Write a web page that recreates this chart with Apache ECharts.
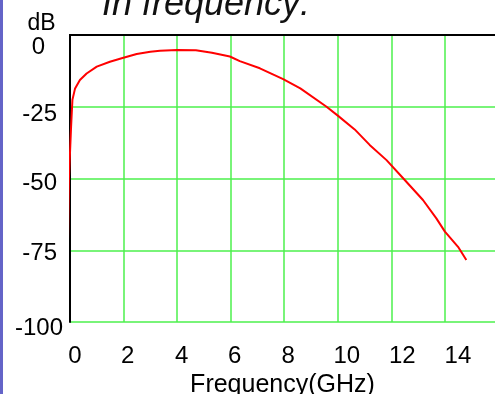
<!DOCTYPE html>
<html><head><meta charset="utf-8">
<script src="https://cdn.jsdelivr.net/npm/echarts@6/dist/echarts.min.js"></script>
<style>html,body{margin:0;padding:0;background:#fff}#c{width:495px;height:394px}</style>
</head><body><div id="c"></div>
<script>
const titleText = 'In frequency:';
const xName = 'Frequency(GHz)';
const yName = 'dB';
const xTicks = [0, 2, 4, 6, 8, 10, 12, 14];
const yTicks = [-100, -75, -50, -25, 0];
const freqGHz = [-0.1, -0.08, -0.04, 0.04, 0.09, 0.19, 0.37, 0.62, 1.0, 1.49, 1.93, 2.49, 3.0, 3.36, 4.0, 4.7, 5.3, 5.97, 6.34, 7.09, 7.96, 8.6, 9.58, 10.0, 10.63, 11.19, 11.82, 12.44, 13.18, 13.68, 14.0, 14.49, 14.8];
const gainDB = [-92, -75, -50, -32, -22.6, -18.6, -15.7, -13.4, -11, -9.3, -8.1, -6.6, -5.8, -5.5, -5.2, -5.3, -6.2, -7.5, -9.1, -11.6, -15.4, -18.6, -25, -28.1, -32.9, -38.3, -43.6, -49.9, -57.5, -63.9, -68.5, -73.8, -78.4];

const font = 'Liberation Sans, Arial, sans-serif';
// per-label nudges (styling only)
const xPadLeft = [10, 8, 9, 8, 8, 18, 22, 26];
const yPad = [[12, 0], [6, 6], [9, 6], [15, 6], [25, 18]];
const xRich = {}; xTicks.forEach((t, i) => { xRich['x' + i] = { fontSize: 24, fontFamily: font, color: '#000', padding: [0, 0, 0, xPadLeft[i]] }; });
const yRich = {}; yTicks.forEach((t, i) => { yRich['y' + i] = { fontSize: 24, fontFamily: font, color: '#000', padding: [yPad[i][0], yPad[i][1], 0, 0] }; });

const chart = echarts.init(document.getElementById('c'), null, { renderer: 'canvas' });
chart.setOption({
  animation: false,
  backgroundColor: '#fff',
  title: {
    text: titleText, left: 102, top: -13, padding: 0,
    textStyle: { fontFamily: font, fontStyle: 'italic', fontWeight: 'normal', fontSize: 36, color: '#111' }
  },
  graphic: [{ type: 'rect', left: 0, top: 0, shape: { width: 3, height: 394 }, style: { fill: '#6464c8' } }],
  grid: { left: 70, top: 35, width: 425, height: 287, outerBoundsMode: 'none', containLabel: false, show: false },
  xAxis: [{
    type: 'value', min: 0, max: 15.87, interval: 2,
    name: xName, nameLocation: 'middle', nameGap: 45,
    nameTextStyle: { fontFamily: font, fontSize: 25, color: '#000' },
    axisLine: { show: true, lineStyle: { color: '#000', width: 2 } },
    axisTick: { show: false },
    splitLine: { show: true, showMaxLine: false, lineStyle: { color: '#4cf04c', width: 1.5 } },
    axisLabel: {
      margin: 22, showMaxLabel: false,
      formatter: v => { const i = xTicks.indexOf(v); return i < 0 ? '' : '{x' + i + '|' + v + '}'; },
      rich: xRich
    }
  }, {
    type: 'value', position: 'top', min: 0, max: 15.87,
    axisLine: { show: true, onZero: false, lineStyle: { color: '#000', width: 2 } },
    axisTick: { show: false }, axisLabel: { show: false }, splitLine: { show: false }
  }],
  yAxis: {
    type: 'value', min: -100, max: 0, interval: 25,
    name: yName, nameLocation: 'end', nameGap: 0,
    nameTextStyle: { fontFamily: font, fontSize: 23, color: '#000', padding: [0, 57, 0, 0] },
    axisLine: { show: true, lineStyle: { color: '#000', width: 2 } },
    axisTick: { show: false },
    splitLine: { show: true, lineStyle: { color: '#4cf04c', width: 1.5 } },
    axisLabel: {
      margin: 7,
      formatter: v => { const i = yTicks.indexOf(v); return '{y' + i + '|' + v + '}'; },
      rich: yRich
    }
  },
  series: [{
    type: 'line', clip: false, showSymbol: false, symbol: 'none', z: 5,
    lineStyle: { color: '#ff0000', width: 2 },
    data: freqGHz.map((f, i) => [f, gainDB[i]])
  }]
});
</script></body></html>
